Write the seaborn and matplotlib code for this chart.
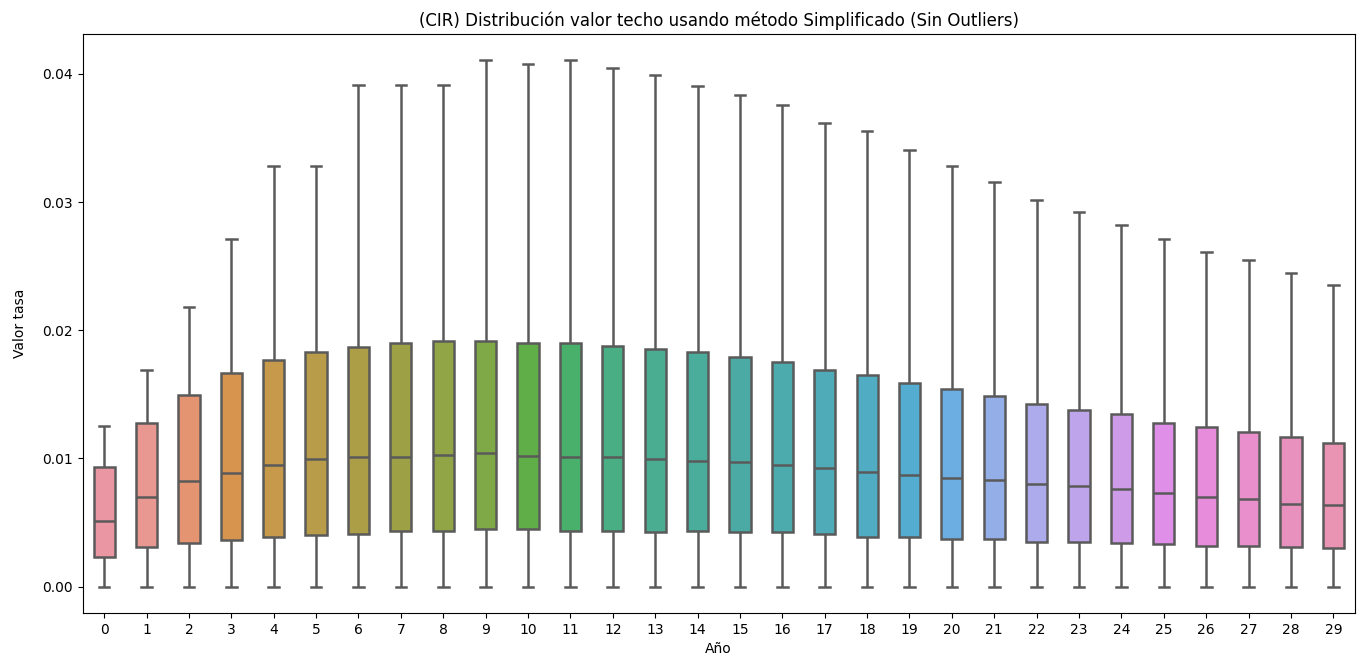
import numpy as np
import pandas as pd
import matplotlib
matplotlib.use("Agg")
import matplotlib.pyplot as plt
import seaborn as sns

anios = list(range(30))

minimos = [0.0] * 30
q1 = [0.00229, 0.00312, 0.00338, 0.00363, 0.00390, 0.00402, 0.00413, 0.00438, 0.00438, 0.00449,
      0.00449, 0.00432, 0.00432, 0.00424, 0.00432, 0.00424, 0.00424, 0.00410, 0.00390, 0.00390,
      0.00370, 0.00370, 0.00350, 0.00350, 0.00340, 0.00330, 0.00320, 0.00320, 0.00310, 0.00300]
medianas = [0.00513, 0.00700, 0.00823, 0.00884, 0.00948, 0.00999, 0.01010, 0.01013, 0.01024, 0.01046,
            0.01021, 0.01010, 0.01010, 0.00996, 0.00982, 0.00971, 0.00946, 0.00923, 0.00895, 0.00873,
            0.00850, 0.00834, 0.00798, 0.00787, 0.00762, 0.00734, 0.00700, 0.00686, 0.00647, 0.00636]
q3 = [0.00937, 0.01280, 0.01495, 0.01665, 0.01768, 0.01827, 0.01866, 0.01900, 0.01916, 0.01916,
      0.01902, 0.01902, 0.01880, 0.01855, 0.01827, 0.01791, 0.01755, 0.01693, 0.01654, 0.01590,
      0.01540, 0.01484, 0.01428, 0.01380, 0.01345, 0.01280, 0.01247, 0.01205, 0.01169, 0.01120]
maximos = [0.01250, 0.01690, 0.02180, 0.02710, 0.03280, 0.03280, 0.03916, 0.03916, 0.03916, 0.04106,
           0.04080, 0.04106, 0.04045, 0.03994, 0.03908, 0.03833, 0.03757, 0.03620, 0.03557, 0.03409,
           0.03285, 0.03157, 0.03020, 0.02923, 0.02823, 0.02711, 0.02611, 0.02550, 0.02450, 0.02350]

# Five-number summary per year expanded into long format
filas = []
for a, mn, a1, md, a3, mx in zip(anios, minimos, q1, medianas, q3, maximos):
    for v in (mn, a1, md, a3, mx):
        filas.append({"Año": a, "Valor tasa": v})
df = pd.DataFrame(filas)

colores = sns.husl_palette(len(anios), l=.7)

fig, ax = plt.subplots(figsize=(13.6, 6.67), dpi=100)
sns.boxplot(data=df, x="Año", y="Valor tasa", hue="Año", palette=colores,
            legend=False, width=0.5, whis=(0, 100), showfliers=False,
            saturation=0.75, linewidth=1.8, linecolor="#5a5a5a", ax=ax)
ax.set_title("(CIR) Distribución valor techo usando método Simplificado (Sin Outliers)", fontsize=12)
ax.set_xlabel("Año")
ax.set_ylabel("Valor tasa", labelpad=11)
ax.set_xlim(-0.5, 29.5)
fig.subplots_adjust(left=0.061, right=0.996, top=0.949, bottom=0.081)
fig.savefig("out.png", dpi=100)
